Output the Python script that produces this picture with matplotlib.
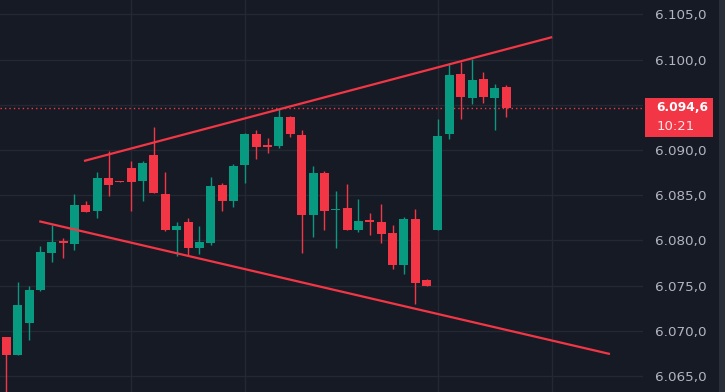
import matplotlib
matplotlib.use("Agg")
import matplotlib.pyplot as plt
from matplotlib.patches import Rectangle
import numpy as np

# ---- data ----
opens = [6069.3, 6067.3, 6070.9, 6074.5, 6078.6, 6079.85, 6079.6, 6083.9, 6083.2, 6086.9,
         6086.55, 6088.0, 6086.6, 6089.4, 6085.1, 6081.1, 6082.0, 6079.2, 6079.7, 6086.1,
         6084.4, 6088.3, 6091.8, 6090.45, 6090.4, 6093.6, 6091.7, 6082.8, 6087.4, 6083.35,
         6083.6, 6081.1, 6082.15, 6082.0, 6080.8, 6077.3, 6082.4, 6075.6, 6081.2, 6091.8,
         6098.4, 6095.7, 6097.9, 6095.7, 6097.0]
highs = [6069.3, 6075.4, 6075.0, 6079.4, 6081.7, 6080.3, 6085.1, 6084.3, 6087.6, 6089.9,
         6086.55, 6088.8, 6088.8, 6092.5, 6087.6, 6082.0, 6082.5, 6081.6, 6087.0, 6086.3,
         6088.4, 6091.9, 6092.2, 6091.3, 6094.5, 6093.7, 6092.2, 6088.2, 6087.7, 6085.5,
         6086.2, 6084.6, 6083.0, 6084.0, 6081.7, 6082.6, 6083.5, 6075.7, 6093.4, 6099.6,
         6099.7, 6100.1, 6098.6, 6097.3, 6097.2]
lows = [6063.0, 6067.3, 6069.0, 6074.4, 6077.6, 6078.0, 6078.9, 6083.1, 6082.5, 6084.9,
        6086.45, 6083.2, 6084.4, 6085.2, 6081.0, 6078.3, 6078.4, 6078.5, 6079.5, 6083.2,
        6083.7, 6086.3, 6089.0, 6089.7, 6090.2, 6091.4, 6078.6, 6080.4, 6081.2, 6079.2,
        6081.2, 6080.9, 6080.6, 6079.7, 6076.8, 6076.3, 6073.0, 6074.9, 6081.2, 6091.2,
        6093.4, 6095.1, 6095.2, 6092.2, 6093.6]
closes = [6067.3, 6072.8, 6074.5, 6078.7, 6079.8, 6079.75, 6083.9, 6083.1, 6086.9, 6086.1,
          6086.45, 6086.5, 6088.6, 6085.2, 6081.1, 6081.6, 6079.2, 6079.8, 6086.0, 6084.4,
          6088.2, 6091.8, 6090.3, 6090.35, 6093.6, 6091.8, 6082.8, 6087.4, 6083.2, 6083.45,
          6081.2, 6082.1, 6082.05, 6080.7, 6077.3, 6082.4, 6075.3, 6074.9, 6091.5, 6098.3,
          6095.8, 6097.7, 6095.8, 6096.8, 6094.6]

upper_line_x = [6.84, 48.06]
upper_line_y = [6088.78, 6102.48]
lower_line_x = [2.9, 53.14]
lower_line_y = [6082.11, 6067.43]

yticks = [6065, 6070, 6075, 6080, 6085, 6090, 6095, 6100, 6105]
# the 6.095,0 label is hidden behind the last-price label in the reference
ytick_labels = ["6.065,0", "6.070,0", "6.075,0", "6.080,0", "6.085,0",
                "6.090,0", "", "6.100,0", "6.105,0"]
vgrid_idx = [11, 21, 38, 48]
last_price = 6094.6
last_price_label = "6.094,6"
countdown = "10:21"

# ---- style ----
BG = "#161a25"
GRID = "#242833"
UP = "#089981"
DOWN = "#f23645"
TXT = "#b2b5be"

W, H = 725, 392
fig = plt.figure(figsize=(W / 100, H / 100), dpi=100, facecolor=BG)
plot_right = 643
ax = fig.add_axes([0, 0, plot_right / W, 1])
ax.set_facecolor(BG)

x = np.arange(len(opens))
o = np.array(opens); c = np.array(closes)
colors = [UP if cc >= oo else DOWN for oo, cc in zip(o, c)]
body_bottom = np.minimum(o, c)
body_h = np.maximum(np.abs(c - o), 0.15)

ax.vlines(x, lows, highs, colors=colors, linewidth=1.0, zorder=3)
ax.bar(x, body_h, bottom=body_bottom, width=0.79, color=colors, linewidth=0, zorder=4)

ax.plot(upper_line_x, upper_line_y, color=DOWN, linewidth=1.6, zorder=5, solid_capstyle="butt")
ax.plot(lower_line_x, lower_line_y, color=DOWN, linewidth=1.6, zorder=5, solid_capstyle="butt")

# price line
ax.axhline(last_price, color=DOWN, linewidth=1.0, linestyle=(0, (1, 2.2)), zorder=2)

# axes limits
ax.set_xlim((0 - 6.3) / 11.36, (plot_right - 6.3) / 11.36)
ax.set_ylim(6105 - (H - 14.3) / 9.0425, 6105 + 14.3 / 9.0425)

ax.set_yticks(yticks)
ax.set_yticklabels(ytick_labels)
ax.yaxis.tick_right()
ax.tick_params(axis="y", length=0, pad=8.6, labelsize=9.7, labelcolor=TXT)
ax.set_xticks(vgrid_idx)
ax.tick_params(axis="x", length=0, labelbottom=False)
ax.grid(True, color=GRID, linewidth=1.0, zorder=0)
ax.set_axisbelow(True)
for s in ax.spines.values():
    s.set_visible(False)

# right border strip
fig.patches.append(Rectangle((719 / W, 0), 6 / W, 1, transform=fig.transFigure,
                             facecolor="#2a2e39", edgecolor="none", zorder=1))

# last price label box
y_top, y_bot = 98.3, 136.7
fig.patches.append(Rectangle((645 / W, 1 - y_bot / H), 68 / W, (y_bot - y_top) / H,
                             transform=fig.transFigure, facecolor=DOWN,
                             edgecolor="none", zorder=5))
fig.text(656 / W, 1 - 107.7 / H, last_price_label, color="white", fontsize=8.9,
         fontweight="bold", va="center", ha="left", zorder=6)
fig.text(657 / W, 1 - 126.5 / H, countdown, color="#fde3e5", fontsize=9.5,
         va="center", ha="left", zorder=6)

fig.savefig("out.png", dpi=100, facecolor=BG)
